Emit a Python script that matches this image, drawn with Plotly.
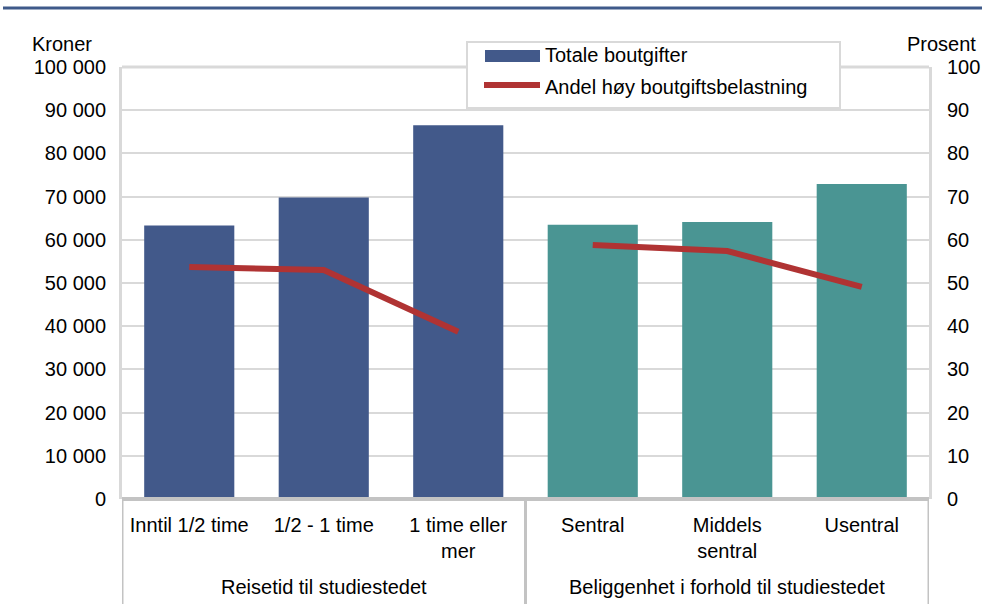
import plotly.graph_objects as go

categories = ["Inntil 1/2 time", "1/2 - 1 time", "1 time eller<br>mer", "Sentral", "Middels<br>sentral", "Usentral"]
groups = ["Reisetid til studiestedet", "Beliggenhet i forhold til studiestedet"]
group_sizes = [3, 3]
totale_boutgifter = [63300, 69800, 86500, 63500, 64100, 72900]
andel_hoy = [53.7, 53.0, 38.7, 58.8, 57.4, 49.1]
bar_colors = ["#42598A", "#42598A", "#42598A", "#4A9593", "#4A9593", "#4A9593"]
left_ticks = [0, 10000, 20000, 30000, 40000, 50000, 60000, 70000, 80000, 90000, 100000]
left_ticktext = ["0", "10 000", "20 000", "30 000", "40 000", "50 000", "60 000", "70 000", "80 000", "90 000", "100 000"]
right_ticks = [0, 10, 20, 30, 40, 50, 60, 70, 80, 90, 100]
legend_names = ["Totale boutgifter", "Andel høy boutgiftsbelastning"]

FONT = "Liberation Sans, Arial, sans-serif"
FS = 20
GRID = "#D9D9D9"
DARK_GRID = "#C3C3C3"
RED = "#B03333"
BLUE = "#42598A"

# plot area in pixels: x 122..929, y 67..499
def px(xpix):
    return (xpix - 122) / 807.0

def py(ypix):
    return (499 - ypix) / 432.0

x = list(range(len(categories)))
fig = go.Figure()
fig.add_trace(go.Bar(x=x, y=totale_boutgifter, marker=dict(color=bar_colors, line=dict(width=0)),
                     name=legend_names[0], yaxis="y", showlegend=False))
start = 0
for gi, n in enumerate(group_sizes):
    fig.add_trace(go.Scatter(x=x[start:start + n], y=andel_hoy[start:start + n], mode="lines",
                             line=dict(color=RED, width=6), name=legend_names[1],
                             showlegend=False, yaxis="y2"))
    start += n

fig.update_layout(
    width=982, height=604,
    margin=dict(l=122, r=53, t=67, b=105, autoexpand=False),
    paper_bgcolor="white", plot_bgcolor="white",
    font=dict(family=FONT, size=FS, color="black"),
    bargap=0.33,
    showlegend=False,
    xaxis=dict(range=[-0.5, len(categories) - 0.5], tickvals=x, ticktext=categories,
               showgrid=False, zeroline=False, showline=False, ticks="", ticklabelstandoff=12,
               automargin=False),
    yaxis=dict(range=[0, 100000], tickvals=left_ticks, ticktext=left_ticktext,
               showgrid=True, gridcolor=GRID, gridwidth=2, zeroline=False,
               showline=True, linecolor=GRID, linewidth=3, ticks="", ticklabelstandoff=9,
               automargin=False),
    yaxis2=dict(range=[0, 100], tickvals=right_ticks, overlaying="y", side="right",
                showgrid=False, zeroline=False, showline=True, linecolor=GRID, linewidth=3,
                ticks="", ticklabelstandoff=11, automargin=False),
)

shapes = []
shapes.append(dict(type="line", xref="paper", yref="paper", x0=0, x1=1, y0=1, y1=1,
                   line=dict(color=GRID, width=3)))
shapes.append(dict(type="line", xref="paper", yref="paper", x0=0, x1=1, y0=0, y1=0,
                   line=dict(color=DARK_GRID, width=4)))
bounds = [-0.5]
for n in group_sizes:
    bounds.append(bounds[-1] + n)
for b in bounds:
    shapes.append(dict(type="line", xref="x", yref="paper", x0=b, x1=b, y0=0, y1=py(606),
                       line=dict(color=DARK_GRID, width=3)))
# header rule
shapes.append(dict(type="line", xref="paper", yref="paper", x0=px(3), x1=px(985),
                   y0=py(8), y1=py(8), line=dict(color="#3F5A8A", width=3)))
# custom legend
shapes.append(dict(type="rect", xref="paper", yref="paper", x0=px(467), x1=px(840),
                   y0=py(108), y1=py(42), fillcolor="white", line=dict(color=GRID, width=2)))
shapes.append(dict(type="rect", xref="paper", yref="paper", x0=px(485), x1=px(540),
                   y0=py(62), y1=py(50), fillcolor=BLUE, line=dict(width=0)))
shapes.append(dict(type="line", xref="paper", yref="paper", x0=px(484), x1=px(540),
                   y0=py(85), y1=py(85), line=dict(color=RED, width=6)))
fig.update_layout(shapes=shapes)

annotations = []
for gi, n in enumerate(group_sizes):
    center = (bounds[gi] + bounds[gi + 1]) / 2
    annotations.append(dict(text=groups[gi], xref="x", yref="paper", x=center, y=py(587),
                            showarrow=False, yanchor="middle", font=dict(size=FS)))
annotations.append(dict(text="Kroner", xref="paper", yref="paper", x=px(30), y=py(44),
                        xanchor="left", yanchor="middle", showarrow=False, font=dict(size=FS)))
annotations.append(dict(text="Prosent", xref="paper", yref="paper", x=px(978), y=py(44),
                        xanchor="right", yanchor="middle", showarrow=False, font=dict(size=FS)))
annotations.append(dict(text=legend_names[0], xref="paper", yref="paper", x=px(543), y=py(55),
                        xanchor="left", yanchor="middle", showarrow=False, font=dict(size=FS)))
annotations.append(dict(text=legend_names[1], xref="paper", yref="paper", x=px(543), y=py(87),
                        xanchor="left", yanchor="middle", showarrow=False, font=dict(size=FS)))
fig.update_layout(annotations=annotations)

fig.write_html("out.html", config={"displayModeBar": False},
               post_script="document.body.style.margin='0';document.body.style.padding='0';")
